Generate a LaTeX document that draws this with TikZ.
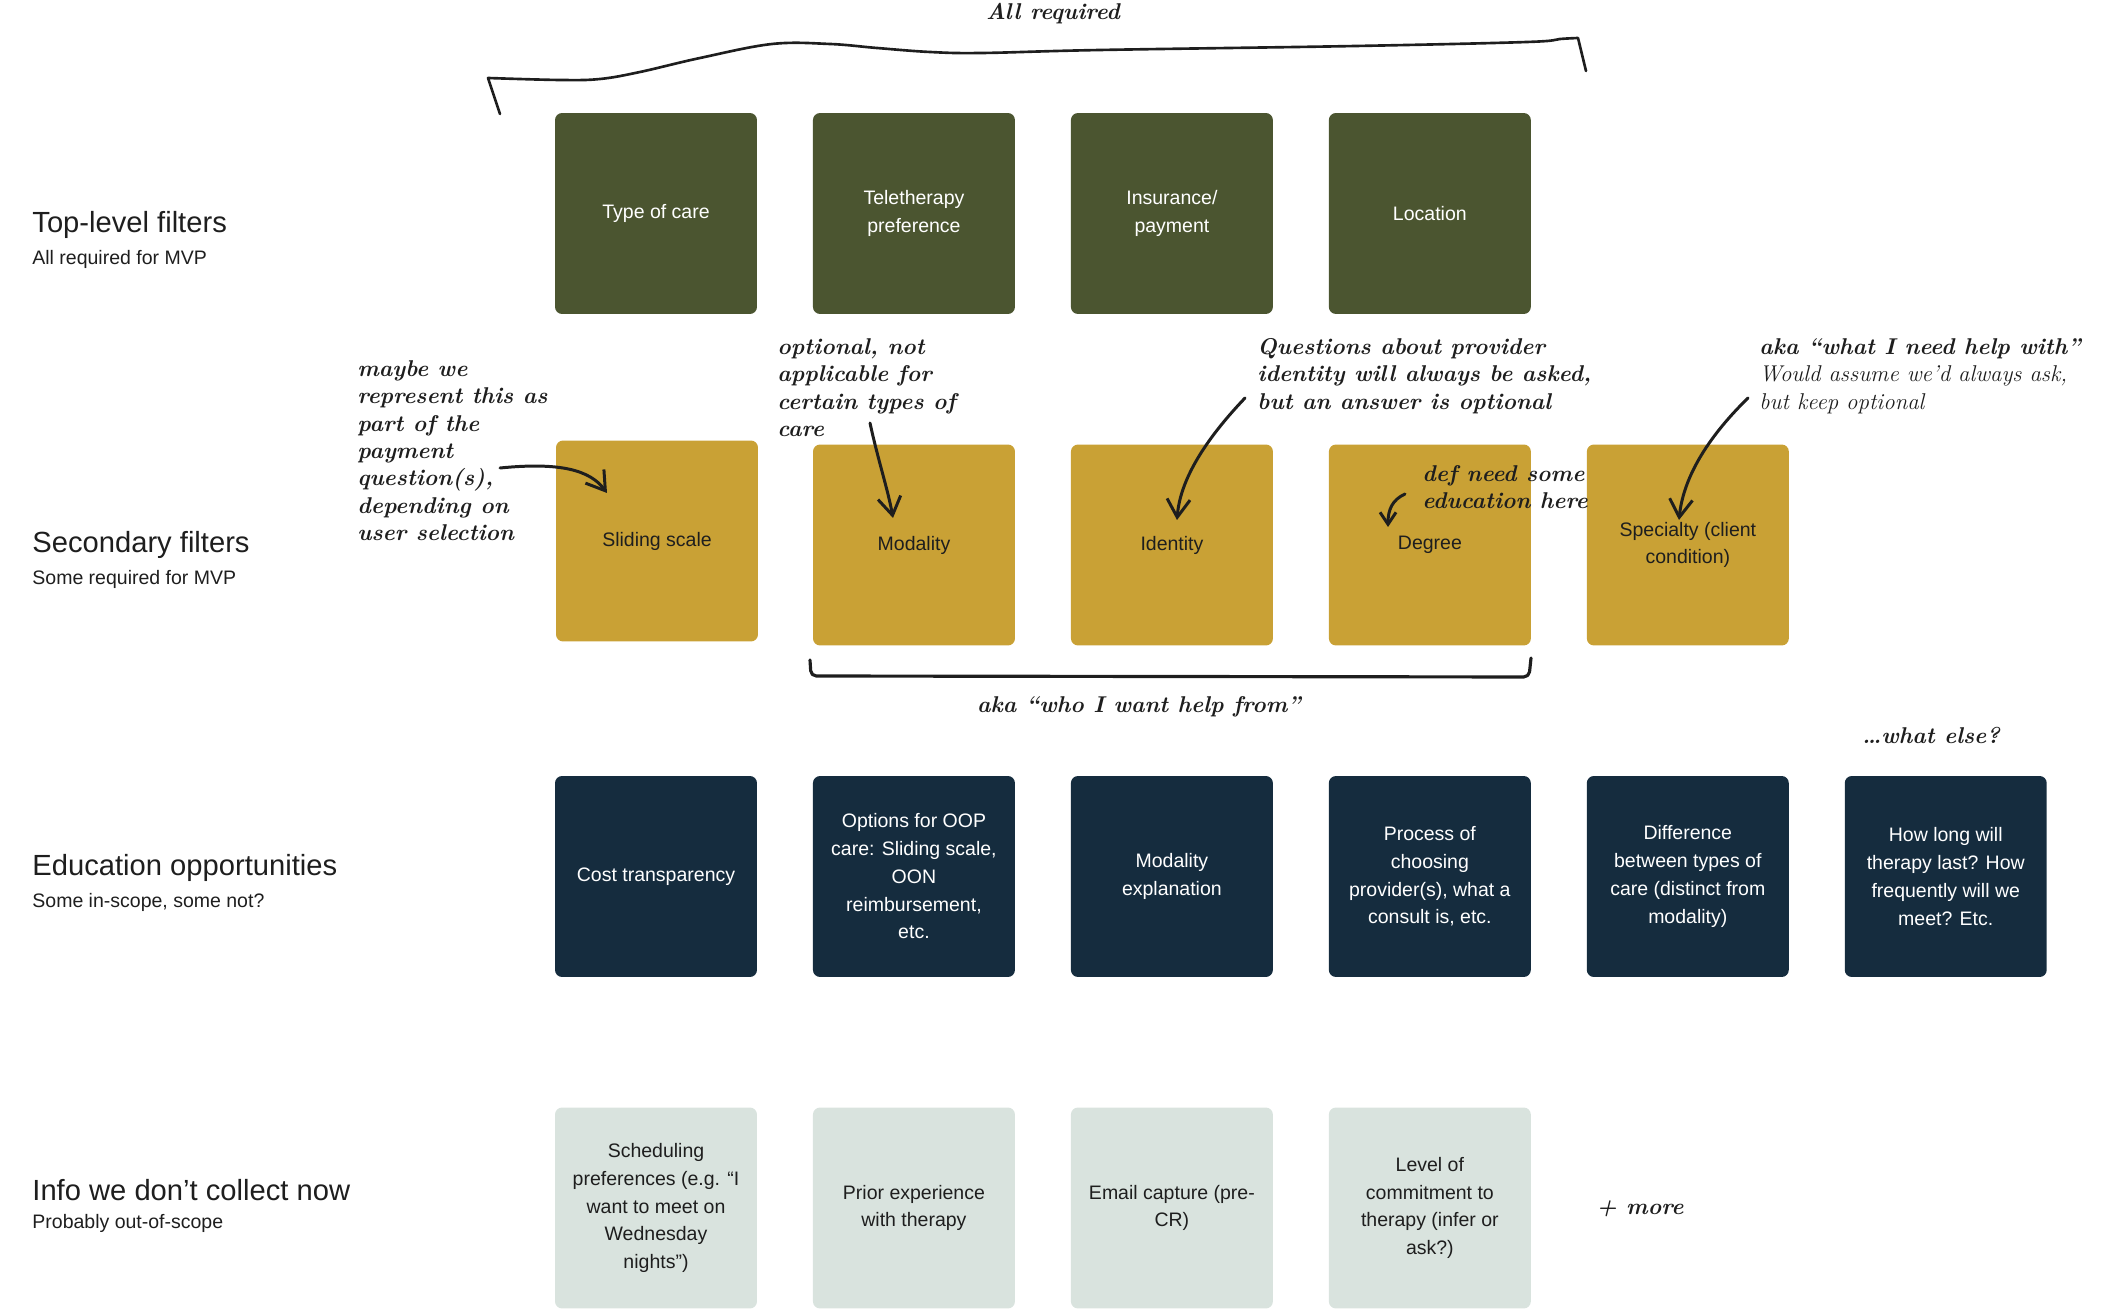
\documentclass[tikz,border=0pt]{standalone}
\usepackage{fontspec}
\setsansfont{Liberation Sans}
\usetikzlibrary{arrows.meta, positioning}
\definecolor{colive}{HTML}{4B5530}
\definecolor{cmustard}{HTML}{C9A135}
\definecolor{cnavy}{HTML}{152C3E}
\definecolor{csage}{HTML}{D9E3DE}
\definecolor{cink}{HTML}{1E1E1E}
\tikzset{
  every picture/.style={font=\sffamily, line width=1.6pt},
  card/.style={fill=#1, rounded corners=4pt, align=center, inner sep=2pt, outer sep=0pt,
               minimum width=4.04cm, minimum height=4.02cm, text=cink,
               font=\sffamily\fontsize{11.1}{15.8}\selectfont},
  card/.default=csage,
  darkcard/.style={card=#1, text=white},
  rowtitle/.style={anchor=west, inner sep=0pt, text=cink, font=\sffamily\fontsize{16.6}{19}\selectfont},
  rowsub/.style={anchor=west, inner sep=0pt, text=cink, font=\sffamily\fontsize{11.1}{14}\selectfont},
  scribble/.style={anchor=north west, align=left, inner sep=0pt, text=cink,
                   font=\rmfamily\bfseries\itshape\fontsize{13}{15.6}\selectfont},
  scrawl/.style={draw=cink, line width=1.7pt, line cap=round, line join=round,
                 -{Straight Barb[length=3.6mm, width=4.6mm, line width=1.7pt]}},
  hand/.style={draw=cink, line width=1.5pt, line cap=round, line join=round},
}

\begin{document}
\begin{tikzpicture}[x=0.02cm, y=-0.02cm]
  \useasboundingbox (0,0) rectangle (2117,1310);

  % row labels
  \node[rowtitle] (lbltop) at (31,225) {Top-level filters};
  \node[rowsub] (subtop) at (31,259) {All required for MVP};
  \node[rowtitle] (lblsec) at (31,545) {Secondary filters};
  \node[rowsub] (subsec) at (31,579) {Some required for MVP};
  \node[rowtitle] (lbledu) at (31,868) {Education opportunities};
  \node[rowsub] (subedu) at (31,902) {Some in-scope, some not?};
  \node[rowtitle] (lblinfo) at (31,1190) {Info we don’t collect now};
  \node[rowsub] (subinfo) at (31,1223) {Probably out-of-scope};

  % top-level filters
  \node[darkcard=colive] (care) at (656,213.5) {Type of care};
  \node[darkcard=colive, right=1.12cm of care] (tele) {Teletherapy\\preference};
  \node[darkcard=colive, right=1.12cm of tele] (insur) {Insurance/\\payment};
  \node[darkcard=colive, right=1.12cm of insur] (loc) {Location};

  % secondary filters
  \node[card=cmustard] (sliding) at (657,541) {Sliding scale};
  \node[card=cmustard] (modal) at (914,545) {Modality};
  \node[card=cmustard, right=1.12cm of modal] (ident) {Identity};
  \node[card=cmustard, right=1.12cm of ident] (degree) {Degree};
  \node[card=cmustard, right=1.12cm of degree] (special) {Specialty (client\\condition)};

  % education opportunities
  \node[darkcard=cnavy] (cost) at (656,876.5) {Cost transparency};
  \node[darkcard=cnavy, right=1.12cm of cost] (oop) {Options for OOP\\care: Sliding scale,\\OON\\reimbursement,\\etc.};
  \node[darkcard=cnavy, right=1.12cm of oop] (modexp) {Modality\\explanation};
  \node[darkcard=cnavy, right=1.12cm of modexp] (process) {Process of\\choosing\\provider(s), what a\\consult is, etc.};
  \node[darkcard=cnavy, right=1.12cm of process] (diff) {Difference\\between types of\\care (distinct from\\modality)};
  \node[darkcard=cnavy, right=1.12cm of diff] (howlong) {How long will\\therapy last? How\\frequently will we\\meet? Etc.};

  % not collected
  \node[card] (sched) at (656,1208) {Scheduling\\preferences (e.g. “I\\want to meet on\\Wednesday\\nights”)};
  \node[card, right=1.12cm of sched] (prior) {Prior experience\\with therapy};
  \node[card, right=1.12cm of prior] (email) {Email capture (pre-\\CR)};
  \node[card, right=1.12cm of email] (commit) {Level of\\commitment to\\therapy (infer or\\ask?)};

  % hand notes
  \node[scribble, anchor=center] (allreq) at (1053,14) {All required};
  \draw[hand] (500,114) -- plot[smooth, tension=0.6] coordinates {(488,78) (560,80) (600,79) (640,72) (700,58) (772,44) (830,44) (877,48) (930,52) (982,53) (1100,50) (1356,46) (1527,42) (1560,39) (1578,38)} -- (1586,71);

  \node[scribble] (notepay) at (356,359) {maybe we\\represent this as\\part of the\\payment\\question(s),\\depending on\\user selection};
  \node[scribble] (noteopt) at (776,337) {optional, not\\applicable for\\certain types of\\care};
  \node[scribble] (noteident) at (1256,337) {Questions about provider\\identity will always be asked,\\but an answer is optional};
  \node[scribble] (noteedu) at (1421,464) {def need some\\education here};
  \node[scribble] (notespec) at (1758,337) {aka “what I need help with”\\{\mdseries Would assume we’d always ask,}\\{\mdseries but keep optional}};

  \coordinate (a1s) at (500,468);
  \coordinate (a1e) at (607,493);
  \coordinate (a2s) at (870,423);
  \coordinate (a2e) at (893,518);
  \coordinate (a3s) at (1245,398);
  \coordinate (a3e) at (1177,520);
  \coordinate (a4s) at (1405,494);
  \coordinate (a4e) at (1388,527);
  \coordinate (a5s) at (1748,398);
  \coordinate (a5e) at (1679,520);
  \draw[scrawl] (a1s) .. controls +(60,-6) and +(-17,-23) .. (a1e);
  \draw[scrawl] (a2s) .. controls +(8,37) and +(-5,-28) .. (a2e);
  \draw[scrawl] (a3s) .. controls +(-40,42) and +(3,-40) .. (a3e);
  \draw[scrawl, -{Straight Barb[length=2.4mm, width=3.2mm, line width=1.7pt]}] (a4s) .. controls +(-13,6) and +(0,-17) .. (a4e);
  \draw[scrawl] (a5s) .. controls +(-43,42) and +(4,-40) .. (a5e);

  \draw[hand, line width=1.8pt, rounded corners=3pt] (810,660) -- (811,676) -- (1529,677) -- (1531,658);
  \node[scribble, anchor=center] (whofrom) at (1139,707) {aka “who I want help from”};
  \node[scribble, anchor=center] (whatelse) at (1931,735) {…what else?};
  \node[scribble, anchor=center] (more) at (1640,1209) {+ more};
\end{tikzpicture}
\end{document}
